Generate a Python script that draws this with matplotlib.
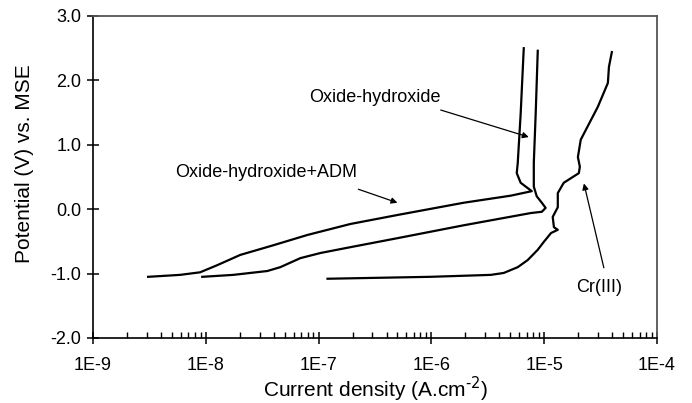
import matplotlib
matplotlib.use("Agg")
import matplotlib.pyplot as plt
import numpy as np
from matplotlib.ticker import FixedLocator, LogLocator, NullFormatter

plt.rcParams['font.family'] = ['Liberation Sans', 'DejaVu Sans']

# polarisation curves: current density (A/cm2), potential (V vs MSE)
i_adm = [3.08e-9, 5.9e-9, 8.9e-9, 1.26e-8, 2.02e-8, 3.97e-8, 7.96e-8, 1.91e-7, 5.0e-7,
         1.93e-6, 5.05e-6, 7.76e-6, 6.19e-6, 5.71e-6, 5.83e-6, 6.19e-6, 6.59e-6]
e_adm = [-1.05, -1.02, -0.98, -0.87, -0.71, -0.56, -0.40, -0.23, -0.09,
         0.10, 0.21, 0.28, 0.41, 0.56, 0.72, 1.49, 2.50]

i_oxh = [9.3e-9, 1.75e-8, 3.51e-8, 4.58e-8, 6.89e-8, 1.04e-7, 1.91e-7, 5.0e-7, 1.93e-6,
         7.6e-6, 9.53e-6, 1.03e-5, 9.53e-6, 8.59e-6, 8.09e-6, 8.09e-6, 8.41e-6, 8.77e-6]
e_oxh = [-1.05, -1.02, -0.96, -0.90, -0.76, -0.68, -0.59, -0.45, -0.25,
         -0.06, -0.04, 0.02, 0.10, 0.20, 0.35, 0.72, 1.49, 2.46]

i_cr = [1.20e-7, 9.8e-7, 3.36e-6, 4.38e-6, 5.83e-6, 7.14e-6, 8.77e-6, 9.9e-6, 1.15e-5,
        1.32e-5, 1.22e-5, 1.19e-5, 1.32e-5, 1.32e-5, 1.49e-5, 2.03e-5, 2.07e-5,
        1.99e-5, 2.11e-5, 2.99e-5, 3.67e-5, 3.75e-5, 3.98e-5]
e_cr = [-1.08, -1.05, -1.02, -0.99, -0.90, -0.79, -0.63, -0.51, -0.37,
        -0.32, -0.28, -0.12, 0.03, 0.25, 0.41, 0.56, 0.66,
        0.81, 1.08, 1.59, 1.96, 2.21, 2.44]

x_ticks = [1e-9, 1e-8, 1e-7, 1e-6, 1e-5, 1e-4]
x_labels = ['1E-9', '1E-8', '1E-7', '1E-6', '1E-5', '1E-4']
y_ticks = [-2.0, -1.0, 0.0, 1.0, 2.0, 3.0]
y_labels = ['-2.0', '-1.0', '0.0', '1.0', '2.0', '3.0']

fig = plt.figure(figsize=(6.92, 4.03), dpi=100)
ax = fig.add_axes([0.1344, 0.1613, 0.815, 0.799])

for xs, ys in [(i_adm, e_adm), (i_oxh, e_oxh), (i_cr, e_cr)]:
    ax.plot(xs, ys, color='black', lw=1.6, solid_joinstyle='round')

ax.set_xscale('log')
ax.set_xlim(1e-9, 1e-4)
ax.set_ylim(-2.0, 3.0)

ax.xaxis.set_major_locator(FixedLocator(x_ticks))
ax.set_xticklabels(x_labels)
ax.xaxis.set_minor_locator(LogLocator(base=10, subs=np.arange(2, 10)))
ax.xaxis.set_minor_formatter(NullFormatter())
ax.set_yticks(y_ticks)
ax.set_yticklabels(y_labels)

ax.tick_params(axis='both', which='major', direction='inout', length=9, width=1.1,
               labelsize=13, pad=4)
ax.tick_params(axis='x', which='minor', direction='in', length=4, width=1.0)
ax.tick_params(axis='x', which='major', pad=9)

for side in ['left', 'bottom']:
    ax.spines[side].set_linewidth(1.2)
for side in ['top', 'right']:
    ax.spines[side].set_linewidth(1.3)
    ax.spines[side].set_color('#555555')

ax.set_xlabel('Current density (A.cm$^{\\text{-2}}$)', fontsize=15)
ax.xaxis.set_label_coords(0.5, -0.113)
ax.set_ylabel('Potential (V) vs. MSE', fontsize=15)
ax.yaxis.set_label_coords(-0.105, 0.543)

arrow = dict(arrowstyle='-|>', color='black', lw=0.9, mutation_scale=9, shrinkA=0, shrinkB=0)
ax.annotate('', xy=(7.3e-6, 1.12), xytext=(1.21e-6, 1.54), arrowprops=arrow)
ax.text(1.2e-6, 1.74, 'Oxide-hydroxide', fontsize=13, ha='right', va='center')

ax.annotate('', xy=(5.0e-7, 0.10), xytext=(2.25e-7, 0.31), arrowprops=arrow)
ax.text(5.35e-9, 0.57, 'Oxide-hydroxide+ADM', fontsize=13, ha='left', va='center')

ax.annotate('', xy=(2.25e-5, 0.40), xytext=(3.38e-5, -0.91), arrowprops=arrow)
ax.text(3.06e-5, -1.21, 'Cr(III)', fontsize=13, ha='center', va='center')

fig.savefig('out.png', dpi=100)
